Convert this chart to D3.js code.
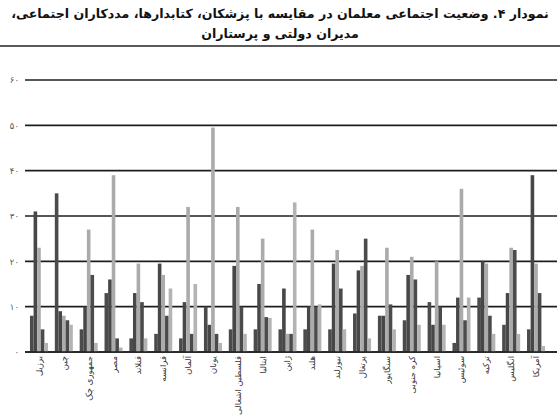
<!DOCTYPE html>
<html><head><meta charset="utf-8">
<script src="https://cdn.jsdelivr.net/npm/d3@7"></script>
<style>
html,body{margin:0;padding:0;background:#fff;}
svg{display:block;}
</style></head>
<body>
<svg id="chart" width="560" height="419"></svg>
<script>
const titleLines = ["نمودار ۴. وضعیت اجتماعی معلمان در مقایسه با پزشکان، کتابدارها، مددکاران اجتماعی،", "مدیران دولتی و پرستاران"];
const categories = ["برزیل","چین","جمهوری چک","مصر","فنلاند","فرانسه","آلمان","یونان","فلسطین اشغالی","ایتالیا","ژاپن","هلند","نیوزلند","پرتغال","سنگاپور","کره جنوبی","اسپانیا","سوئیس","ترکیه","انگلیس","آمریکا"];
const seriesNames = ["s1","s2","s3","s4","s5"];
const s1 = [8,35,5,13,3,4,3,10,5,5,5,5,5,8.5,8,7,11,2,12,6,5];
const s2 = [31,9,10,16,13,19.5,11,6,19,15,14,10,19.5,18,8,17,6,12,20,13,39];
const s3 = [23,8,27,39,19.5,17,32,49.5,32,25,4,27,22.5,19,23,21,20,36,19.5,23,19.5];
const s4 = [5,7,17,3,11,8,4,4,10,7.7,4,10,14,25,10.5,16,10,7,8,22.5,13];
const s5 = [2,6,2,1,3,14,15,2,4,7.5,33,10.5,5,3,5,6,6,12,4,4,1.3];
const yTicks = [0,10,20,30,40,50,60];
const seriesColors = ["#4b4b4b","#474747","#ababab","#4b4b4b","#b3b3b3"];

const allSeries = [s1,s2,s3,s4,s5];
const svg = d3.select("#chart");
const faDigits = s => String(s).replace(/\d/g, d => "۰۱۲۳۴۵۶۷۸۹"[+d]);

// title
const tt = svg.selectAll("text.title").data(titleLines).join("text")
  .attr("class","title")
  .attr("x",280).attr("y",(d,i)=>18+i*20)
  .attr("text-anchor","middle")
  .attr("direction","rtl")
  .attr("font-family","DejaVu Sans, sans-serif")
  .attr("font-weight","bold")
  .attr("font-size",13)
  .attr("fill","#111")
  .text(d=>d);
const w0 = tt.nodes()[0].getComputedTextLength();
tt.attr("font-size", Math.min(15, 13 * 538 / w0));
svg.append("line").attr("x1",0).attr("x2",560).attr("y1",46).attr("y2",46)
  .attr("stroke","#222").attr("stroke-width",1.5);

const x = d3.scaleBand().domain(categories).range([25,550]).paddingInner(0.275).paddingOuter(0.2);
const xs = d3.scaleBand().domain(seriesNames).range([0,x.bandwidth()]);
const y = d3.scaleLinear().domain([0,60]).range([352,80]);

// gridlines
svg.append("g").selectAll("line").data(yTicks).join("line")
  .attr("x1",25).attr("x2",557)
  .attr("y1",d=>y(d)).attr("y2",d=>y(d))
  .attr("stroke","#1e1e1e").attr("stroke-width",1.6);

// y axis labels
const yAxis = d3.axisLeft(y).tickValues(yTicks).tickSize(0).tickPadding(4).tickFormat(faDigits);
const yg = svg.append("g").attr("transform","translate(23,0)").call(yAxis);
yg.select(".domain").remove();
yg.selectAll("text").attr("font-family","DejaVu Sans, sans-serif").attr("font-size",8.5).attr("fill","#555");

// bars
const groups = svg.append("g").selectAll("g").data(categories).join("g")
  .attr("transform",d=>`translate(${x(d)},0)`);
groups.selectAll("rect").data((d,i)=>allSeries.map((s,k)=>({k, v:s[i]}))).join("rect")
  .attr("x",d=>xs(seriesNames[d.k]))
  .attr("width",xs.bandwidth())
  .attr("y",d=>y(d.v))
  .attr("height",d=>y(0)-y(d.v))
  .attr("fill",d=>seriesColors[d.k]);

// baseline redraw
svg.append("line").attr("x1",25).attr("x2",557).attr("y1",y(0)).attr("y2",y(0))
  .attr("stroke","#1e1e1e").attr("stroke-width",1.6);

// x labels
const xAxis = d3.axisBottom(x).tickSize(0).tickPadding(0);
const xg = svg.append("g").attr("transform",`translate(0,${y(0)})`).call(xAxis);
xg.select(".domain").remove();
xg.selectAll(".tick text")
  .attr("font-family","DejaVu Sans, sans-serif")
  .attr("font-size",8.5)
  .attr("fill","#333")
  .attr("text-anchor","end")
  .attr("dy","0.35em")
  .attr("y",0)
  .attr("transform","translate(0,4) rotate(-90)");
</script>
</body></html>
